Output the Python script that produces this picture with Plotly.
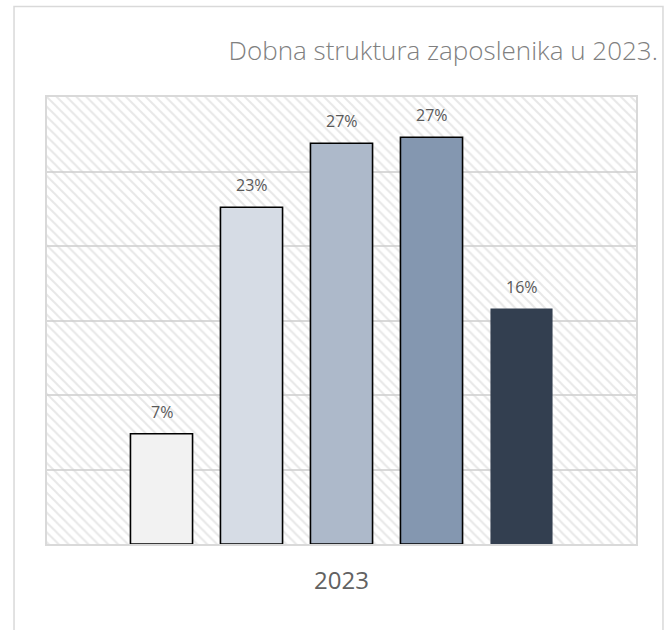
import plotly.graph_objects as go

# age-structure shares for 2023 (%)
year = "2023"
shares = [7.4, 22.6, 26.9, 27.3, 15.8]
bar_colors = ["#f2f2f2", "#d6dce5", "#adb9ca", "#8497b0", "#333f50"]
edge_widths = [1.6, 1.6, 1.6, 1.6, 0]
y_max = 30
y_step = 5

bar_gap = 0.236
group_gap = 0.31

fig = go.Figure()

# hatched plot background, drawn as one bar filling the whole plot area
fig.add_trace(go.Bar(
    x=[0.5], y=[y_max], width=[1],
    xaxis="x", yaxis="y",
    marker=dict(color="rgba(0,0,0,0)", line=dict(width=0),
                pattern=dict(shape="\\", fgcolor="#d0d0d0", size=7, solidity=0.28)),
    hoverinfo="skip", showlegend=False,
))

for val, col, lw in zip(shares, bar_colors, edge_widths):
    fig.add_trace(go.Bar(
        x=[year], y=[val],
        xaxis="x2", yaxis="y",
        marker=dict(color=col, line=dict(color="#000000", width=lw)),
        hovertemplate="%{y:.1f}%<extra></extra>",
        showlegend=False,
    ))

# data labels above each bar of the group
n = len(shares)
slot = (1 - bar_gap) / n
for k, val in enumerate(shares):
    fig.add_annotation(
        x=-(1 - bar_gap) / 2 + (k + 0.5) * slot, y=val,
        xref="x2", yref="y",
        text=f"{val:.0f}%", showarrow=False,
        yanchor="middle", yshift=22,
        font=dict(family="Open Sans", size=16, color="#595959"),
    )

fig.update_layout(
    width=672, height=630,
    margin=dict(l=47, r=36, t=97, b=86),
    paper_bgcolor="white",
    plot_bgcolor="white",
    barmode="group",
    bargap=bar_gap,
    bargroupgap=group_gap,
    title=dict(
        text="Dobna struktura zaposlenika u 2023.",
        x=0.979, xanchor="right", xref="container",
        y=0.92, yanchor="middle",
        font=dict(family="Open Sans", size=26, color="#808080", weight=300),
    ),
    xaxis=dict(range=[0, 1], showticklabels=False, showgrid=False, zeroline=False,
               showline=True, mirror=True, linecolor="#d9d9d9", linewidth=1.5,
               fixedrange=True),
    xaxis2=dict(overlaying="x", side="bottom", type="category",
                showgrid=False, zeroline=False, showline=False,
                ticks="outside", ticklen=15, tickcolor="rgba(0,0,0,0)",
                tickfont=dict(family="Open Sans", size=24, color="#626262")),
    yaxis=dict(range=[0, y_max], dtick=y_step, showticklabels=False,
               gridcolor="#d9d9d9", gridwidth=1.5, zeroline=False,
               showline=True, mirror=True, linecolor="#d9d9d9", linewidth=1.5),
)

# outer chart frame
fig.add_shape(type="rect", xref="paper", yref="paper",
              x0=-0.056, x1=1.0458, y0=-0.22, y1=1.2025,
              line=dict(color="#d9d9d9", width=1.5), layer="below")

fig.write_html("out.html", config={"displayModeBar": False},
               post_script="document.body.style.margin='0';")
